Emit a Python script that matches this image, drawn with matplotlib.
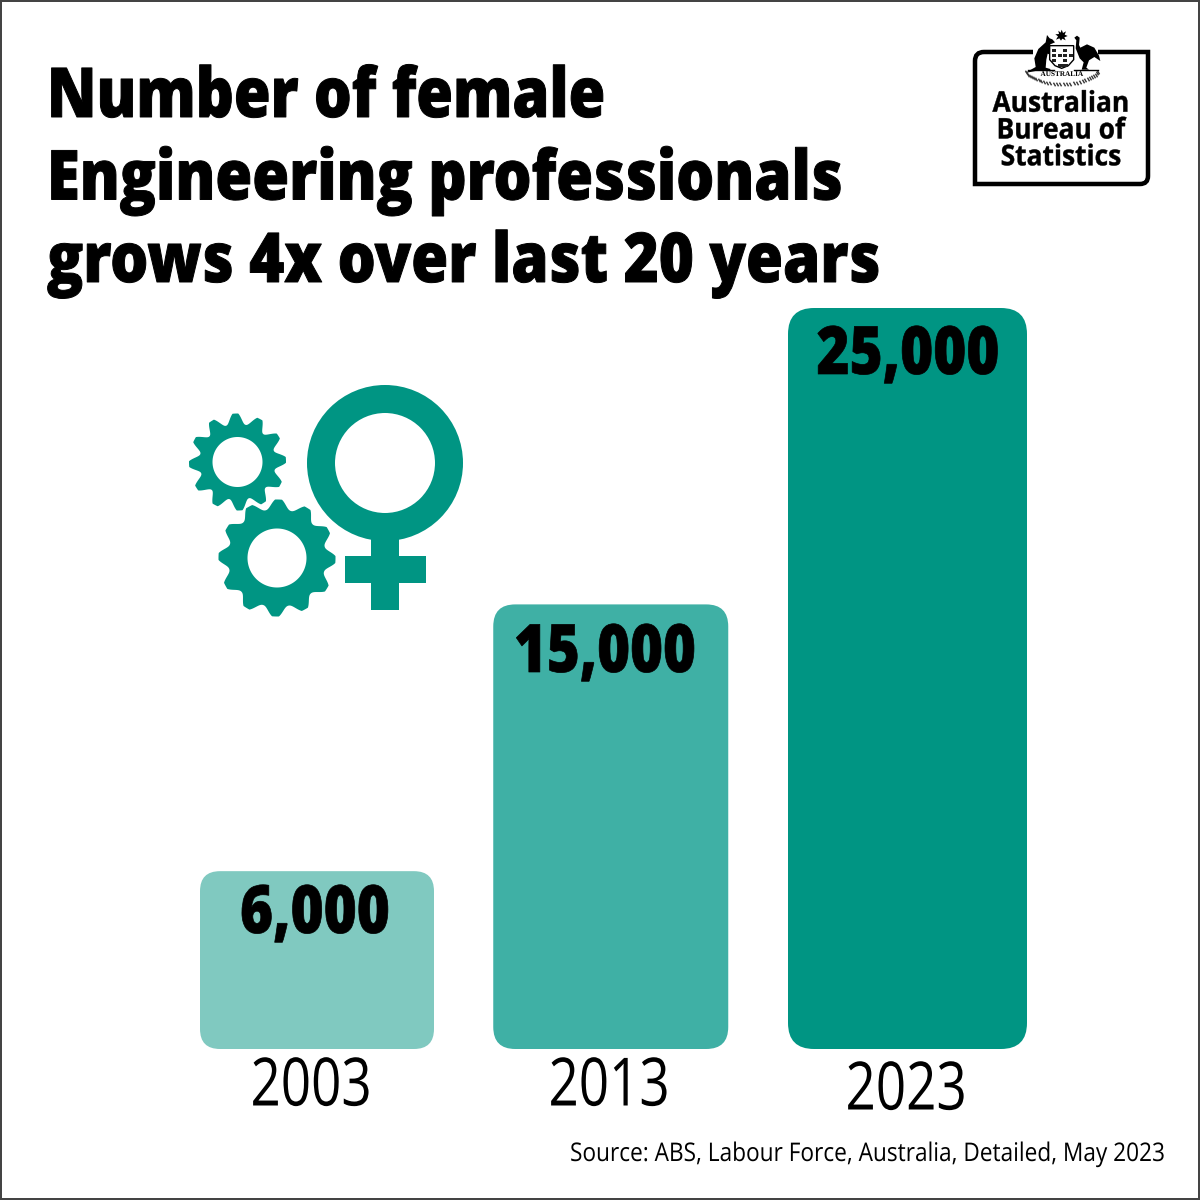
import numpy as np
import matplotlib
matplotlib.use("Agg")
import matplotlib.pyplot as plt
from matplotlib.patches import FancyBboxPatch, Circle, Rectangle, Polygon, PathPatch
from matplotlib.path import Path
from matplotlib.patheffects import AbstractPathEffect
from matplotlib.transforms import Affine2D

years = ["2003", "2013", "2023"]
values = [6000, 15000, 25000]
value_labels = ["6,000", "15,000", "25,000"]
title_lines = ["Number of female", "Engineering professionals", "grows 4x over last 20 years"]
source = "Source: ABS, Labour Force, Australia, Detailed, May 2023"
logo_text = "Australian\nBureau of\nStatistics"

bar_colors = ["#80C9C0", "#3FB0A5", "#009583"]
bar_widths_px = [234, 235, 239]
bar_offset_px = [0, -1.25, 0.5]
bar_radius_px = [20, 22, 26]
icon = "#009583"
plt.rcParams["font.family"] = ["Open Sans", "DejaVu Sans"]

S = 1200
fig = plt.figure(figsize=(12, 12), dpi=100, facecolor="white")
px = 72 / 100
renderer = fig.canvas.get_renderer()


class HScale(AbstractPathEffect):
    """Narrows the glyph outlines of a real text horizontally around x0, optionally thickening them."""
    def __init__(self, s, x0, bold=0.0):
        super().__init__()
        self.s, self.x0, self.bold = s, x0, bold

    def draw_path(self, renderer, gc, tpath, affine, rgbFace=None):
        t = affine + Affine2D().translate(-self.x0, 0).scale(self.s, 1).translate(self.x0, 0)
        gc0 = renderer.new_gc()
        gc0.copy_properties(gc)
        gc0.set_linewidth(self.bold)
        renderer.draw_path(gc0, tpath, t, rgbFace)
        gc0.restore()


def condense(t, target_width, bold=0.0):
    """Scale text t to target_width pixels; keep its alignment edge in place."""
    bb = t.get_window_extent(renderer)
    ha = t.get_ha()
    x0 = {"left": bb.x0, "center": (bb.x0 + bb.x1) / 2, "right": bb.x1}[ha]
    t.set_path_effects([HScale(target_width / bb.width, x0, bold)])
    return t


bg = fig.add_axes([0, 0, 1, 1])
bg.set_xlim(0, S); bg.set_ylim(S, 0); bg.axis("off")
bg.add_patch(Rectangle((1, 1), S - 2, S - 2, fill=False, ec="#444444", lw=2 * px))

for t, y, w in zip(title_lines, [117, 199.5, 282], [558, 795, 833]):
    condense(bg.text(47, y, t, fontsize=49.5, fontweight=800, va="baseline", ha="left", color="black"), w, bold=0.7)

ax = fig.add_axes([22 / S, (S - 1049) / S, (1202 - 22) / S, 741 / S])
ax.set_xlim(-1, 3); ax.set_ylim(0, 25000); ax.axis("off"); ax.patch.set_alpha(0)
x = np.arange(len(years))
unit_x = 1180 / 4
unit_y = 25000 / 741
label_w = [150, 182, 183]
label_cx = [315, 605, 908]
label_base = [933, 672, 374]
year_cx = [311, 609, 906]
year_base = [1105.5, 1105.5, 1109.5]
for i, (v, c) in enumerate(zip(values, bar_colors)):
    w = bar_widths_px[i] / unit_x
    xc = x[i] + bar_offset_px[i] / unit_x
    ax.add_patch(FancyBboxPatch(
        (xc - w / 2, 0), w, v,
        boxstyle=f"round,pad=0,rounding_size={bar_radius_px[i] / unit_x}",
        mutation_aspect=unit_y * unit_x,
        fc=c, ec="none", clip_on=False))
    bar_px = ax.transData.transform((x[i], v))
    condense(ax.annotate(value_labels[i], (x[i], v),
                         xytext=((label_cx[i] - bar_px[0]) * px, -(label_base[i] - (S - bar_px[1])) * px),
                         textcoords="offset points", ha="center", va="baseline",
                         fontsize=48, fontweight=800, color="black", annotation_clip=False),
             label_w[i], bold=0.5)
    base_px = ax.transData.transform((x[i], 0))
    condense(ax.annotate(years[i], (x[i], 0),
                         xytext=((year_cx[i] - base_px[0]) * px, -(year_base[i] - (S - base_px[1])) * px),
                         textcoords="offset points", ha="center", va="baseline",
                         fontsize=48, color="black", annotation_clip=False), 121)

condense(bg.text(1166, 1161, source, fontsize=18.5, ha="right", va="baseline", color="black"), 596)


def gear(cx, cy, r_out, r_root, r_hole, n, phase=0.0):
    th = np.linspace(0, 2 * np.pi, 960, endpoint=False)
    wave = np.abs(np.cos(n * (th - phase) / 2))
    r = r_root + (r_out - r_root) * np.clip(1.15 * wave ** 2.2, 0, 1)
    outer = np.c_[cx + r * np.cos(th), cy + r * np.sin(th)]
    ta = np.linspace(0, 2 * np.pi, 180)[::-1]
    hole = np.c_[cx + r_hole * np.cos(ta), cy + r_hole * np.sin(ta)]
    v = np.r_[outer, outer[:1], hole]
    codes = [Path.MOVETO] + [Path.LINETO] * (len(outer) - 1) + [Path.CLOSEPOLY] + \
            [Path.MOVETO] + [Path.LINETO] * (len(hole) - 1)
    bg.add_patch(PathPatch(Path(v, codes), fc=icon, ec="none"))


gear(237.5, 462, 48.5, 38, 25, 12, phase=np.deg2rad(-92.5))
gear(277, 558, 58.5, 49, 29.5, 12, phase=np.deg2rad(-88.5))
bg.add_patch(Circle((385, 463), 64, fill=False, ec=icon, lw=28 * px))
bg.add_patch(Rectangle((371, 530), 28, 80, fc=icon, ec="none"))
bg.add_patch(Rectangle((345, 556), 81, 27, fc=icon, ec="none"))

frame = Path(np.array([[1033, 52], [984, 52], [975, 52], [975, 61], [975, 184], [1140, 184],
                       [1148, 184], [1148, 176], [1148, 52], [1098, 52]], float),
             [Path.MOVETO, Path.LINETO, Path.CURVE3, Path.CURVE3, Path.LINETO, Path.LINETO,
              Path.CURVE3, Path.CURVE3, Path.LINETO, Path.LINETO])
bg.add_patch(PathPatch(frame, fill=False, ec="black", lw=4.5 * px, capstyle="butt", joinstyle="miter"))
condense(bg.text(1061, 131, logo_text, fontsize=20.5, fontweight="bold", ha="center", va="center",
                 ma="center", linespacing=0.9, color="black"), 137, bold=0.3)


def crest(points):
    return [(1015 + a / 3, 25 + b / 3) for a, b in points]


kangaroo = crest([(96, 30), (104, 40), (112, 43), (120, 52), (106, 58), (102, 72), (118, 88), (112, 92), (98, 86),
                  (94, 104), (92, 128), (106, 132), (106, 138), (72, 136), (30, 144), (62, 126), (58, 100), (70, 72),
                  (92, 52)])
emu = crest([(178, 38), (186, 32), (194, 38), (192, 60), (196, 68), (216, 58), (238, 68), (252, 92), (256, 108),
             (238, 96), (222, 106), (214, 128), (222, 134), (200, 134), (206, 112), (194, 100), (182, 70), (184, 46)])
star = crest([(140, 14), (144, 24), (153, 19), (149, 29), (158, 33), (148, 37), (152, 46), (142, 41), (138, 47),
              (133, 40), (123, 44), (129, 34), (121, 28), (132, 27), (130, 17), (137, 23)])
bg.add_patch(Polygon(kangaroo, fc="black", ec="none"))
bg.add_patch(Polygon(emu, fc="black", ec="none"))
bg.add_patch(Polygon(star, fc="black", ec="none"))
bg.add_patch(Polygon(crest([(104, 62), (176, 62), (176, 104), (160, 122), (140, 130), (120, 122), (104, 104)]),
                     fc="white", ec="black", lw=1.0))
for row, yy in enumerate([48.5, 53.5, 58.5]):
    for col, xx in enumerate([1052, 1057.5, 1063, 1068.5]):
        if (row + col) % 2 == 0 or row == 1:
            bg.add_patch(Rectangle((xx, yy), 4, 3.6, fc="#222222", ec="none"))
bg.add_patch(Rectangle((1058, 64), 10, 3, fc="#222222", ec="none"))
bg.plot([1028, 1054], [70, 70], color="black", lw=1.0)
bg.plot([1074, 1098], [70, 70], color="black", lw=1.0)
th = np.deg2rad(np.linspace(14, 166, 30))
bg.scatter(1062 + 37 * np.cos(th), 68 + 16 * np.sin(th), marker=(2, 0, 30), s=9, color="#333333", linewidths=1.0)
condense(bg.text(1062, 74.5, "AUSTRALIA", fontsize=5.2, family="Liberation Serif", fontweight="bold",
                 ha="center", va="center", color="black"), 43)

fig.savefig("out.png", dpi=100, facecolor="white")
